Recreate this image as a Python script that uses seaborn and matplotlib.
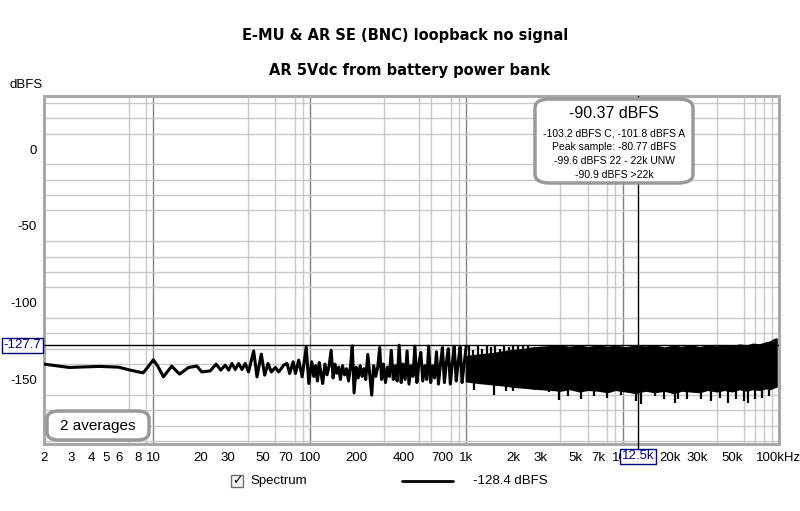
import matplotlib
matplotlib.use("Agg")
import matplotlib.pyplot as plt
import matplotlib.transforms as mtrans
from matplotlib.patches import FancyBboxPatch, Rectangle
import seaborn as sns
import pandas as pd

# ---------------- data ----------------
title_lines = ["E-MU & AR SE (BNC) loopback no signal", "AR 5Vdc from battery power bank"]

# traced line, 2 Hz .. 1 kHz
line_freq = [2.0, 2.9, 4.5, 6.0, 7.1, 8.6, 9.25, 10.0, 10.7, 11.6, 13.1, 14.7, 16.8, 19.0,
             20.4, 23.1, 25.2, 27.0, 28.8, 30.3, 31.8, 33.4, 35.1, 36.9, 38.7, 40.6, 43.8,
             46.0, 49.0, 51.5, 54.1, 56.8, 60.3, 63.3, 68.1, 71.6, 74.4, 78.3, 81.0, 85.0,
             89.4, 94.9, 98.6,
             103, 106, 109, 112, 115, 118, 121, 125, 129, 133, 137, 141, 145, 149, 153,
             157, 162, 167, 172, 177, 182, 187, 192, 198, 204, 210, 216, 222, 228, 235,
             242, 249, 256, 264, 272, 280, 288, 296, 305, 314, 323, 332, 342, 352, 362,
             373, 384, 395, 407, 419, 431, 444, 457, 470, 484, 498, 513, 528, 544, 560,
             576, 593, 610, 628, 646, 665, 685, 705, 726, 747, 769, 792, 815, 839, 864,
             889, 915, 942, 970, 1000]
line_db = [-140.0, -142.2, -141.5, -142.0, -143.9, -145.7, -141.8, -137.2, -141.5, -148.3,
           -141.3, -146.5, -142.2, -141.3, -145.1, -144.4, -140.0, -143.9, -140.7, -143.9,
           -139.6, -143.5, -139.6, -143.5, -139.6, -145.1, -131.4, -148.3, -133.5, -147.2,
           -139.6, -145.1, -142.2, -145.1, -140.7, -139.6, -146.1, -138.5, -146.1, -137.4,
           -148.3, -128.8, -152.6,
           -138.5, -148.0, -141.0, -151.0, -139.0, -146.0, -152.6, -140.0, -147.0, -141.0,
           -131.0, -149.0, -140.0, -146.0, -142.0, -150.0, -141.0, -147.0, -143.0, -151.0,
           -142.0, -128.1, -158.7, -142.0, -149.0, -141.0, -148.0, -143.0, -150.0, -133.7,
           -147.0, -160.2, -141.0, -148.0, -142.0, -129.2, -150.0, -140.0, -152.0, -142.0,
           -148.0, -131.0, -150.0, -141.0, -151.0, -127.7, -152.0, -140.0, -150.0, -131.4,
           -153.0, -141.0, -148.0, -128.3, -152.0, -140.0, -132.4, -151.0, -141.0, -150.0,
           -128.3, -152.0, -141.0, -149.0, -132.0, -153.0, -140.0, -129.3, -152.0, -139.0,
           -130.0, -153.0, -140.0, -128.5, -151.0, -139.0, -129.0, -152.0, -140.0, -128.5]

# dense noise band, 1 kHz .. 96 kHz (envelope of the solid black region)
band_freq = [1000, 1100, 1200, 1350, 1500, 1700, 2000, 2300, 2600, 3000, 3500, 4000, 4600,
             5300, 6000, 7000, 8000, 9000, 10500, 12000, 14000, 16000, 18500, 21000, 24000,
             27000, 31000, 35000, 40000, 45000, 50000, 56000, 62000, 68000, 75000, 82000,
             88000, 92000, 96000]
band_top = [-135.0, -134.5, -134.0, -133.5, -133.0, -132.0, -131.0, -130.5, -129.5, -129.0,
            -128.5, -128.3, -129.0, -128.2, -129.2, -128.0, -129.0, -128.3, -129.3, -128.2,
            -128.8, -128.0, -129.5, -128.3, -129.0, -128.0, -129.2, -128.2, -128.8, -127.8,
            -128.6, -127.5, -128.2, -127.0, -127.4, -126.2, -125.5, -124.2, -123.5]
band_bottom = [-151.0, -151.5, -152.0, -152.5, -153.0, -153.5, -154.5, -155.0, -155.5, -156.0,
               -156.5, -157.0, -156.0, -157.5, -156.5, -157.0, -158.0, -156.5, -157.5, -158.5,
               -157.0, -158.0, -157.0, -158.5, -157.0, -157.5, -158.0, -156.5, -157.5, -156.5,
               -157.5, -156.0, -157.0, -156.0, -156.5, -155.5, -156.0, -155.0, -154.5]

# individual upward spikes in the 1k-2.5k area
spike_freq = [1040, 1110, 1190, 1270, 1350, 1440, 1540, 1640, 1750, 1870, 2000, 2150, 2300, 2500]
spike_db = [-128.5, -131.0, -128.3, -130.0, -128.3, -129.0, -128.0, -130.0, -128.3, -129.0,
            -128.0, -128.5, -128.0, -128.0]

# individual downward dips below the band
dip_freq = [1120, 1500, 1800, 2000, 2700, 3400, 3930, 4500, 5400, 6600, 8000, 9800, 12200,
            13200, 16000, 18500, 21500, 22700, 26000, 31700, 36700, 42000, 47000, 53000,
            59500, 63000, 70000, 78000, 86000]
dip_db = [-157.0, -160.2, -157.5, -157.5, -157.0, -158.0, -163.5, -161.0, -163.0, -161.0,
          -162.0, -159.8, -164.2, -166.0, -161.0, -163.0, -165.0, -162.5, -163.0, -162.5,
          -164.2, -162.0, -165.5, -163.0, -164.2, -165.5, -163.0, -162.0, -161.0]

x_tick_vals = [2, 3, 4, 5, 6, 8, 10, 20, 30, 50, 70, 100, 200, 400, 700, 1000, 2000, 3000,
               5000, 7000, 10000, 20000, 30000, 50000, 100000]
x_tick_labels = ["2", "3", "4", "5", "6", "8", "10", "20", "30", "50", "70", "100", "200",
                 "400", "700", "1k", "2k", "3k", "5k", "7k", "10k", "20k", "30k", "50k", "100kHz"]
y_tick_vals = [0, -50, -100, -150]

cursor_freq = 12500
cursor_freq_label = "12.5k"
cursor_db = -127.7

info_main = "-90.37 dBFS"
info_lines = ["-103.2 dBFS C, -101.8 dBFS A", "Peak sample: -80.77 dBFS",
              "-99.6 dBFS 22 - 22k UNW", "-90.9 dBFS >22k"]
averages_text = "2 averages"
legend_name = "Spectrum"
legend_value = "-128.4 dBFS"

# ---------------- figure ----------------
sns.set_style("white")
plt.rcParams['font.family'] = ['Liberation Sans', 'DejaVu Sans']
plt.rcParams['text.color'] = 'black'
plt.rcParams['xtick.color'] = 'black'
plt.rcParams['ytick.color'] = 'black'
plt.rcParams['axes.labelcolor'] = 'black'

W, H = 800, 511
fig = plt.figure(figsize=(8.0, 5.11), dpi=100)
ax = fig.add_axes([44 / W, 1 - 444 / H, (779 - 44) / W, (444 - 96) / H])
ax.set_xscale('log')
ax.set_xlim(2, 100000)
ax.set_ylim(-192, 34.5)

# grid
minor_x = [m * 10 ** e for e in range(0, 6) for m in range(1, 10)
           if 2 <= m * 10 ** e <= 100000]
ax.set_xticks(minor_x, minor=True)
ax.set_yticks(range(-190, 35, 10), minor=True)
ax.grid(which='minor', axis='both', color='#c8c8c8', lw=1.0, zorder=0)
for d in [10, 100, 1000, 10000]:
    ax.axvline(d, color='#808080', lw=1.0, zorder=0.5)

ax.set_xticks(x_tick_vals)
ax.set_xticklabels(x_tick_labels)
ax.set_yticks(y_tick_vals)
ax.set_yticklabels([str(v) for v in y_tick_vals])
ax.tick_params(which='both', length=0, labelsize=9.5, colors='black', pad=5)
ax.tick_params(axis='x', pad=6)

for s in ax.spines.values():
    s.set_color('#a8a8a8')
    s.set_linewidth(2.2)

# traced line
df_line = pd.DataFrame({"freq": line_freq, "db": line_db})
sns.lineplot(data=df_line, x="freq", y="db", sort=False, estimator=None,
             color='black', lw=2.2, ax=ax, zorder=3)
ax.set_xlabel("")
ax.set_ylabel("")

# dense band
ax.fill_between(band_freq, band_bottom, band_top, color='black', lw=1.5,
                edgecolor='black', zorder=3)
ax.vlines(spike_freq, band_bottom[0], spike_db, color='black', lw=1.6, zorder=3)
ax.vlines(dip_freq, -150, dip_db, color='black', lw=1.6, zorder=3)

# cursors
ax.axhline(cursor_db, color='black', lw=1.0, zorder=4)
ax.axvline(cursor_freq, color='black', lw=1.0, zorder=4)
tr_xd = mtrans.blended_transform_factory(ax.transData, ax.transAxes)
tr_ad = mtrans.blended_transform_factory(ax.transAxes, ax.transData)
ax.plot([cursor_freq, cursor_freq], [0, -0.02], transform=tr_xd, color='black',
        lw=1.0, clip_on=False, zorder=6)
ax.text(cursor_freq, -0.018, cursor_freq_label, transform=tr_xd, ha='center', va='top',
        fontsize=9.5, color='#000080', zorder=7,
        bbox=dict(boxstyle='square,pad=0.12', fc='white', ec='#000080', lw=1))
ax.text(-0.004, cursor_db, f"{cursor_db:.1f}", transform=tr_ad, ha='right', va='center',
        fontsize=9.5, color='#000080', zorder=7,
        bbox=dict(boxstyle='square,pad=0.12', fc='white', ec='#000080', lw=1))

# info box
box = FancyBboxPatch((535 / W, 1 - 183 / H), 158 / W, 84 / H,
                     boxstyle="round,pad=0,rounding_size=0.018", transform=fig.transFigure,
                     fc='white', ec='#999999', lw=2.5, zorder=10)
fig.add_artist(box)
fig.text(614 / W, 1 - 113 / H, info_main, ha='center', va='center', fontsize=11.5, zorder=11)
for i, t in enumerate(info_lines):
    fig.text(614 / W, 1 - (133 + 14 * i) / H, t, ha='center', va='center', fontsize=7.5,
             zorder=11)

# averages box
box2 = FancyBboxPatch((47 / W, 1 - 440 / H), 102 / W, 29 / H,
                      boxstyle="round,pad=0,rounding_size=0.015", transform=fig.transFigure,
                      fc='white', ec='#999999', lw=2.5, zorder=10)
fig.add_artist(box2)
fig.text(98 / W, 1 - 426 / H, averages_text, ha='center', va='center', fontsize=11, zorder=11)

# titles
fig.text(405 / W, 1 - 35 / H, title_lines[0], ha='center', va='center', fontsize=10.5,
         fontweight='bold', family='DejaVu Sans')
fig.text(410 / W, 1 - 70 / H, title_lines[1], ha='center', va='center', fontsize=10.5,
         fontweight='bold', family='DejaVu Sans')
fig.text(10 / W, 1 - 85 / H, "dBFS", ha='left', va='center', fontsize=9.5)

# legend row
cb = Rectangle((231 / W, 1 - 487 / H), 12 / W, 12 / H, transform=fig.transFigure,
               fc='#f4f4f4', ec='#707070', lw=1)
fig.add_artist(cb)
fig.text(237 / W, 1 - 481 / H, "\u2713", ha='center', va='center', fontsize=9,
         family='DejaVu Sans', fontweight='bold')
fig.text(250 / W, 1 - 481 / H, legend_name, ha='left', va='center', fontsize=9.5)
fig.add_artist(plt.Line2D([402 / W, 453 / W], [1 - 481 / H, 1 - 481 / H],
                          transform=fig.transFigure, color='black', lw=2))
fig.text(473 / W, 1 - 481 / H, legend_value, ha='left', va='center', fontsize=9.5)

fig.savefig("out.png", dpi=100, facecolor='white')
